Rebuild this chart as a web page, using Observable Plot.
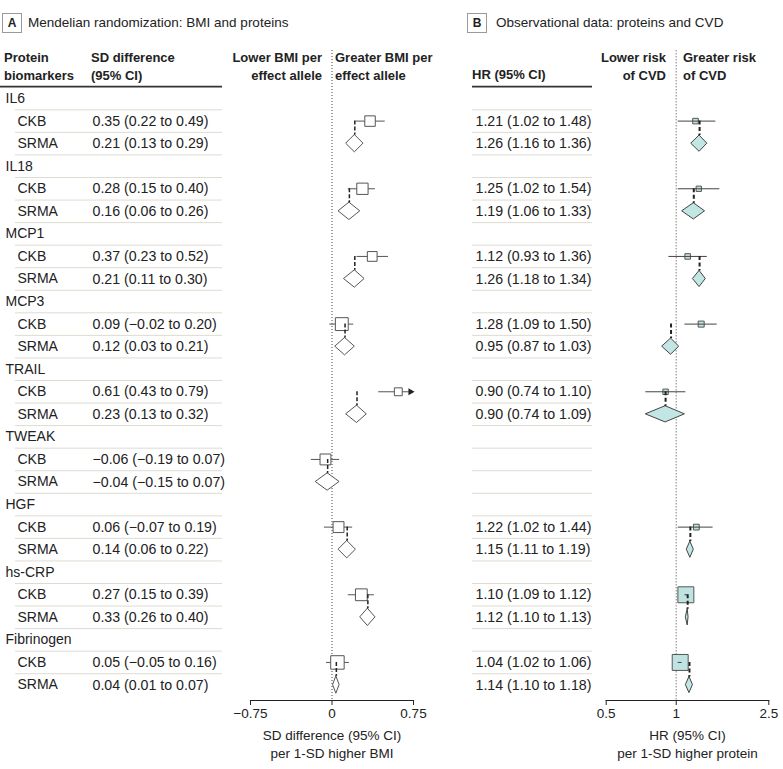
<!DOCTYPE html>
<html><head><meta charset="utf-8">
<script src="https://cdn.jsdelivr.net/npm/d3@7"></script>
<script src="https://cdn.jsdelivr.net/npm/@observablehq/plot@0.6"></script>
<style>
body{margin:0;background:#fff;}
#fig{position:relative;width:783px;height:769px;overflow:hidden;font-family:"Liberation Sans",Arial,sans-serif;color:#222;}
#fig svg{position:absolute;left:0;top:0;}
.t{position:absolute;white-space:nowrap;font-size:13px;line-height:17.5px;}
.b{font-weight:bold;}
.r{text-align:right;}
.box{position:absolute;width:18px;height:18px;border:1px solid #9a9a9a;font-weight:bold;font-size:12px;line-height:18px;text-align:center;}
</style></head>
<body>
<div id="fig">
  <div class="box" style="left:2px;top:13px;">A</div>
  <div class="t" style="left:28px;top:14px;font-size:13.5px;">Mendelian randomization: BMI and proteins</div>
  <div class="box" style="left:467px;top:13px;">B</div>
  <div class="t" style="left:496px;top:14px;font-size:13.5px;">Observational data: proteins and CVD</div>
  <div class="t b" style="left:4px;top:49px;">Protein<br>biomarkers</div>
  <div class="t b" style="left:91px;top:49px;">SD difference<br>(95% CI)</div>
  <div class="t b r" style="right:461px;top:49px;">Lower BMI per<br>effect allele</div>
  <div class="t b" style="left:335px;top:49px;">Greater BMI per<br>effect allele</div>
  <div class="t b" style="left:472px;top:66px;">HR (95% CI)</div>
  <div class="t b r" style="right:117px;top:49px;">Lower risk<br>of CVD</div>
  <div class="t b" style="left:683px;top:49px;">Greater risk<br>of CVD</div>
</div>
<script>
const FONT = '"Liberation Sans",Arial,sans-serif';

// ---- data ----
const proteins = ["IL6","IL18","MCP1","MCP3","TRAIL","TWEAK","HGF","hs-CRP","Fibrinogen"];
const sources = ["CKB","SRMA"];
const sdCKB   = [0.35, 0.28, 0.37, 0.09, 0.61, -0.06, 0.06, 0.27, 0.05];
const sdCKBlo = [0.22, 0.15, 0.23, -0.02, 0.43, -0.19, -0.07, 0.15, -0.05];
const sdCKBhi = [0.49, 0.40, 0.52, 0.20, 0.79, 0.07, 0.19, 0.39, 0.16];
const sdSRMA   = [0.21, 0.16, 0.21, 0.12, 0.23, -0.04, 0.14, 0.33, 0.04];
const sdSRMAlo = [0.13, 0.06, 0.11, 0.03, 0.13, -0.15, 0.06, 0.26, 0.01];
const sdSRMAhi = [0.29, 0.26, 0.30, 0.21, 0.32, 0.07, 0.22, 0.40, 0.07];
const hrCKB   = [1.21, 1.25, 1.12, 1.28, 0.90, null, 1.22, 1.10, 1.04];
const hrCKBlo = [1.02, 1.02, 0.93, 1.09, 0.74, null, 1.02, 1.09, 1.02];
const hrCKBhi = [1.48, 1.54, 1.36, 1.50, 1.10, null, 1.44, 1.12, 1.06];
const hrSRMA   = [1.26, 1.19, 1.26, 0.95, 0.90, null, 1.15, 1.12, 1.14];
const hrSRMAlo = [1.16, 1.06, 1.18, 0.87, 0.74, null, 1.11, 1.10, 1.10];
const hrSRMAhi = [1.36, 1.33, 1.34, 1.03, 1.09, null, 1.19, 1.13, 1.18];
const sdTicks = [-0.75, 0, 0.75];
const hrTicks = [0.5, 1, 2.5];

// ---- derived tables ----
const fmt2 = v => (v < 0 ? "\u2212" : "") + Math.abs(v).toFixed(2);
const ciText = d => `${fmt2(d.est)} (${fmt2(d.lo)} to ${fmt2(d.hi)})`;
const groupRows = proteins.map((p, i) => ({row: 3 * i, label: p}));
const subRows = proteins.flatMap((p, i) => sources.map((s, j) => ({row: 3 * i + 1 + j, label: s})));
const mk = (est, lo, hi, off) => proteins.map((p, i) => ({row: 3 * i + off, est: est[i], lo: lo[i], hi: hi[i]})).filter(d => d.est != null);
const ckbA = mk(sdCKB, sdCKBlo, sdCKBhi, 1), srmaA = mk(sdSRMA, sdSRMAlo, sdSRMAhi, 2);
const ckbB = mk(hrCKB, hrCKBlo, hrCKBhi, 1), srmaB = mk(hrSRMA, hrSRMAlo, hrSRMAhi, 2);
ckbA.forEach(d => d.prec = 1 / (d.hi - d.lo) ** 2);
ckbB.forEach(d => d.prec = 1 / Math.log(d.hi / d.lo));
const nRows = proteins.length * 3;
const seps = d3.range(nRows - 1).map(i => i + 0.5);
const diamond = (arr, h) => arr.flatMap(d => [
  {id: d.row, y: d.row - h, x1: d.est, x2: d.est},
  {id: d.row, y: d.row, x1: d.lo, x2: d.hi},
  {id: d.row, y: d.row + h, x1: d.est, x2: d.est}]);
const links = (ckb, srma, h) => ckb.map(c => {
  const s = srma.find(e => e.row === c.row + 1);
  return {x: s.est, y1: c.row, y2: s.row - h};
});

const Y = {domain: [-2.13, 26.687], reverse: true, axis: null};
const base = {width: 783, height: 769, marginTop: 50, marginBottom: 69};
const sty = {background: "transparent", overflow: "visible", fontFamily: FONT, color: "#222"};
const fig = document.getElementById("fig");

// ---- table A ----
fig.appendChild(Plot.plot({...base, marginLeft: 15, marginRight: 561, y: Y,
  x: {axis: null}, style: {...sty, fontSize: "14px"},
  marks: [
    Plot.ruleY(seps, {stroke: "#dedbd0", strokeWidth: 1}),
    Plot.ruleY([-0.53], {stroke: "#333", strokeWidth: 1.6, insetLeft: -15}),
    Plot.text(groupRows, {y: "row", text: "label", frameAnchor: "left", textAnchor: "start", dx: -10}),
    Plot.text(subRows, {y: "row", text: "label", frameAnchor: "left", textAnchor: "start", dx: 2}),
    Plot.text([...ckbA, ...srmaA], {y: "row", text: ciText, frameAnchor: "left", textAnchor: "start", dx: 77, fontSize: 14.2})
  ]}));

// ---- forest A ----
const xmaxA = sdTicks[sdTicks.length - 1];
const hA = 0.385;
fig.appendChild(Plot.plot({...base, marginLeft: 250, marginRight: 370, y: Y,
  x: {domain: [sdTicks[0], xmaxA], ticks: sdTicks, tickFormat: v => v === 0 ? "0" : (v < 0 ? "\u2212" : "") + Math.abs(v), tickSize: 5, tickPadding: 3, line: true, label: null},
  r: {type: "sqrt", range: [0, 7.6]},
  style: {...sty, fontSize: "13.5px"},
  marks: [
    Plot.ruleX([0], {stroke: "#444", strokeDasharray: "1,2", strokeWidth: 1}),
    Plot.ruleY(ckbA, {y: "row", x1: "lo", x2: d => Math.min(d.hi, xmaxA), stroke: "#555"}),
    Plot.dot(ckbA, {x: "est", y: "row", symbol: "square", r: "prec", fill: "white", stroke: "#555", strokeWidth: 1}),
    Plot.dot(ckbA.filter(d => d.hi > xmaxA), {x: () => xmaxA, y: "row", symbol: "triangle2", rotate: 90, r: 3.4, fill: "#222", dx: -3}),
    Plot.areaX(diamond(srmaA, hA), {y: "y", x1: "x1", x2: "x2", z: "id", fill: "white", stroke: "#555", strokeWidth: 1}),
    Plot.ruleX(links(ckbA, srmaA, hA), {x: "x", y1: "y1", y2: "y2", stroke: "#222", strokeWidth: 1.5, strokeDasharray: "4,2"}),
    Plot.text(["SD difference (95% CI)\nper 1-SD higher BMI"], {frameAnchor: "bottom", dy: 43, lineAnchor: "middle", lineHeight: 1.3, fontSize: 13.5})
  ]}));

// ---- table B ----
fig.appendChild(Plot.plot({...base, marginLeft: 472, marginRight: 191, y: Y,
  x: {axis: null}, style: {...sty, fontSize: "14.2px"},
  marks: [
    Plot.ruleY(seps, {stroke: "#dedbd0", strokeWidth: 1}),
    Plot.ruleY([-0.53], {stroke: "#333", strokeWidth: 1.6}),
    Plot.text([...ckbB, ...srmaB], {y: "row", text: ciText, frameAnchor: "left", textAnchor: "start", dx: 3})
  ]}));

// ---- forest B ----
const hB = 0.36;
fig.appendChild(Plot.plot({...base, marginLeft: 605.7, marginRight: 14.7, y: Y,
  x: {type: "log", domain: [hrTicks[0], hrTicks[hrTicks.length - 1]], ticks: hrTicks, tickFormat: v => String(v), tickSize: 5, tickPadding: 3, line: true, label: null},
  r: {type: "sqrt", domain: [0, 22], range: [0, 9], clamp: true},
  style: {...sty, fontSize: "13.5px"},
  marks: [
    Plot.ruleX([1], {stroke: "#999", strokeDasharray: "1.5,1.5", strokeWidth: 1.2}),
    Plot.dot(ckbB, {x: "est", y: "row", symbol: "square", r: "prec", fill: "#bfe3e1", stroke: "#555", strokeWidth: 1}),
    Plot.ruleY(ckbB, {y: "row", x1: "lo", x2: "hi", stroke: "#444"}),
    Plot.areaX(diamond(srmaB, hB), {y: "y", x1: "x1", x2: "x2", z: "id", fill: "#c2e6e4", stroke: "#444", strokeWidth: 1}),
    Plot.ruleX(links(ckbB, srmaB, hB), {x: "x", y1: "y1", y2: "y2", stroke: "#222", strokeWidth: 2, strokeDasharray: "4,2.5"}),
    Plot.text(["HR (95% CI)\nper 1-SD higher protein"], {frameAnchor: "bottom", dy: 43, lineAnchor: "middle", lineHeight: 1.3, fontSize: 13.5})
  ]}));
</script>
</body></html>
